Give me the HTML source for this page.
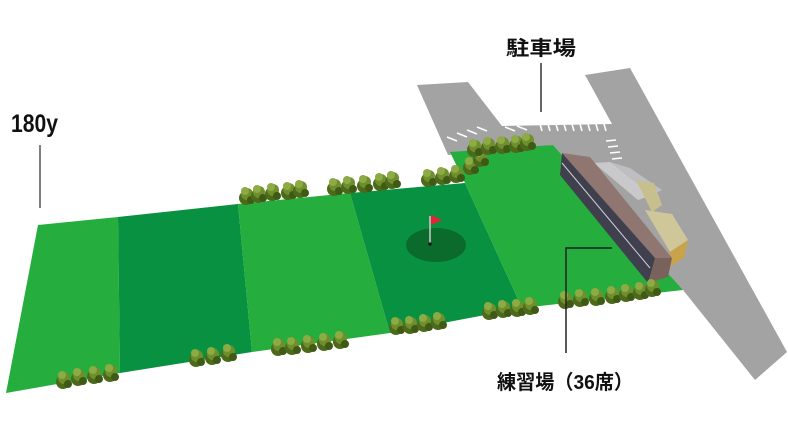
<!DOCTYPE html>
<html><head><meta charset="utf-8"><style>
html,body{margin:0;padding:0;background:#fff;width:788px;height:439px;overflow:hidden}
svg{display:block}
text{font-family:"Liberation Sans","Noto Sans CJK JP",sans-serif;font-weight:bold;fill:#111}
</style></head><body>
<svg width="788" height="439" viewBox="0 0 788 439" xmlns="http://www.w3.org/2000/svg">
<defs>
<g id="t">
<circle cx="0" cy="0" r="7" fill="#4d6a1c"/>
<circle cx="1" cy="-4" r="6" fill="#6f8f2c"/>
<circle cx="-1" cy="-7" r="4" fill="#8cab45"/>
<circle cx="5" cy="2" r="4" fill="#3f5a14"/>
</g>
</defs>
<polygon points="417,85 468,82 502,126 612,124 585,75 630,68 787,352 755,380 683,290 553,145 448,155" fill="#a3a3a3"/>
<g stroke="#fff" stroke-width="1.6">
<line x1="447" y1="137" x2="457" y2="141"/><line x1="457" y1="133" x2="467" y2="137"/><line x1="467" y1="130" x2="477" y2="134"/><line x1="477" y1="127" x2="487" y2="131"/>
<line x1="505" y1="127" x2="515" y2="131"/><line x1="517" y1="126" x2="527" y2="130"/>
<line x1="540" y1="124" x2="542" y2="131"/><line x1="548" y1="124" x2="550" y2="131"/><line x1="556" y1="124" x2="558" y2="131"/><line x1="564" y1="124" x2="566" y2="131"/><line x1="572" y1="124" x2="574" y2="131"/><line x1="580" y1="124" x2="582" y2="131"/><line x1="588" y1="124" x2="590" y2="131"/><line x1="596" y1="124" x2="598" y2="131"/><line x1="604" y1="124" x2="606" y2="131"/>
<line x1="606" y1="141" x2="616" y2="140"/><line x1="608" y1="147" x2="618" y2="146"/><line x1="610" y1="153" x2="620" y2="152"/><line x1="612" y1="159" x2="622" y2="158"/>
</g>
<polygon points="38,225 118,217 120,373 6,393" fill="#25ad3d"/>
<polygon points="118,217 238,204 252,352 120,373" fill="#079140"/>
<polygon points="238,204 350,193 390,333 252,352" fill="#25ad3d"/>
<polygon points="350,193 465,183 522,308 390,333" fill="#079140"/>
<polygon points="450,152 553,145 683,290 522,308 465,183" fill="#25ad3d"/>
<ellipse cx="436" cy="245" rx="30" ry="17" fill="#0a6b2c"/>
<line x1="430" y1="216" x2="430" y2="243" stroke="#ccc" stroke-width="1.5"/>
<polygon points="431,215 442,220 431,225" fill="#e8203a"/>
<circle cx="430" cy="244" r="1.6" fill="#111"/>
<!-- building -->
<polygon points="594,163 610,162 652,195 638,200" fill="#c9c9cc"/>
<polygon points="610,162 630,168 662,190 652,195" fill="#bdbdc2"/>
<polygon points="636,180 654,183 662,205 652,212" fill="#c7c08e"/>
<polygon points="645,210 672,214 688,240 670,252" fill="#cfc69a"/>
<polygon points="670,252 688,240 684,258 668,268" fill="#c9a34a"/>
<polygon points="562,153 590,157 672,258 655,258" fill="#8f7670"/>
<polygon points="655,258 672,258 668,277 648,283" fill="#7a625c"/>
<polygon points="562,153 655,258 648,283 560,175" fill="#3f3f4d"/>
<line x1="562" y1="163" x2="650" y2="268" stroke="#cfcfd8" stroke-width="1"/>
<g>
<use href="#t" x="246" y="198"/><use href="#t" x="258" y="196"/><use href="#t" x="272" y="194"/><use href="#t" x="288" y="193"/><use href="#t" x="300" y="191"/>
<use href="#t" x="334" y="189"/><use href="#t" x="348" y="187"/><use href="#t" x="364" y="186"/><use href="#t" x="380" y="184"/><use href="#t" x="392" y="182"/>
<use href="#t" x="428" y="180"/><use href="#t" x="442" y="178"/><use href="#t" x="456" y="176"/><use href="#t" x="470" y="168"/><use href="#t" x="480" y="160"/>
<use href="#t" x="474" y="150"/><use href="#t" x="488" y="148"/><use href="#t" x="502" y="147"/><use href="#t" x="516" y="146"/><use href="#t" x="527" y="144"/>
<use href="#t" x="63" y="382"/><use href="#t" x="78" y="379"/><use href="#t" x="94" y="377"/><use href="#t" x="110" y="375"/>
<use href="#t" x="196" y="360"/><use href="#t" x="212" y="358"/><use href="#t" x="228" y="355"/>
<use href="#t" x="278" y="349"/><use href="#t" x="292" y="348"/><use href="#t" x="308" y="346"/><use href="#t" x="324" y="344"/><use href="#t" x="340" y="342"/>
<use href="#t" x="396" y="328"/><use href="#t" x="410" y="327"/><use href="#t" x="424" y="325"/><use href="#t" x="438" y="323"/>
<use href="#t" x="489" y="313"/><use href="#t" x="503" y="311"/><use href="#t" x="517" y="310"/><use href="#t" x="530" y="308"/>
<use href="#t" x="565" y="302"/><use href="#t" x="580" y="300"/><use href="#t" x="596" y="299"/><use href="#t" x="612" y="297"/><use href="#t" x="626" y="295"/><use href="#t" x="640" y="293"/><use href="#t" x="652" y="290"/>
</g>
<line x1="40" y1="145" x2="40" y2="208" stroke="#555" stroke-width="1.5"/>
<line x1="541" y1="63" x2="541" y2="112" stroke="#333" stroke-width="1.5"/>
<polyline points="612,248 566,248 566,353" fill="none" stroke="#222" stroke-width="1.5"/>
<text x="11" y="132" font-size="25" textLength="47" lengthAdjust="spacingAndGlyphs">180y</text>
<text x="506" y="55" font-size="20" textLength="70" lengthAdjust="spacingAndGlyphs">駐車場</text>
<text x="497" y="389" font-size="20" textLength="136" lengthAdjust="spacingAndGlyphs">練習場（36席）</text>
</svg>
</body></html>
